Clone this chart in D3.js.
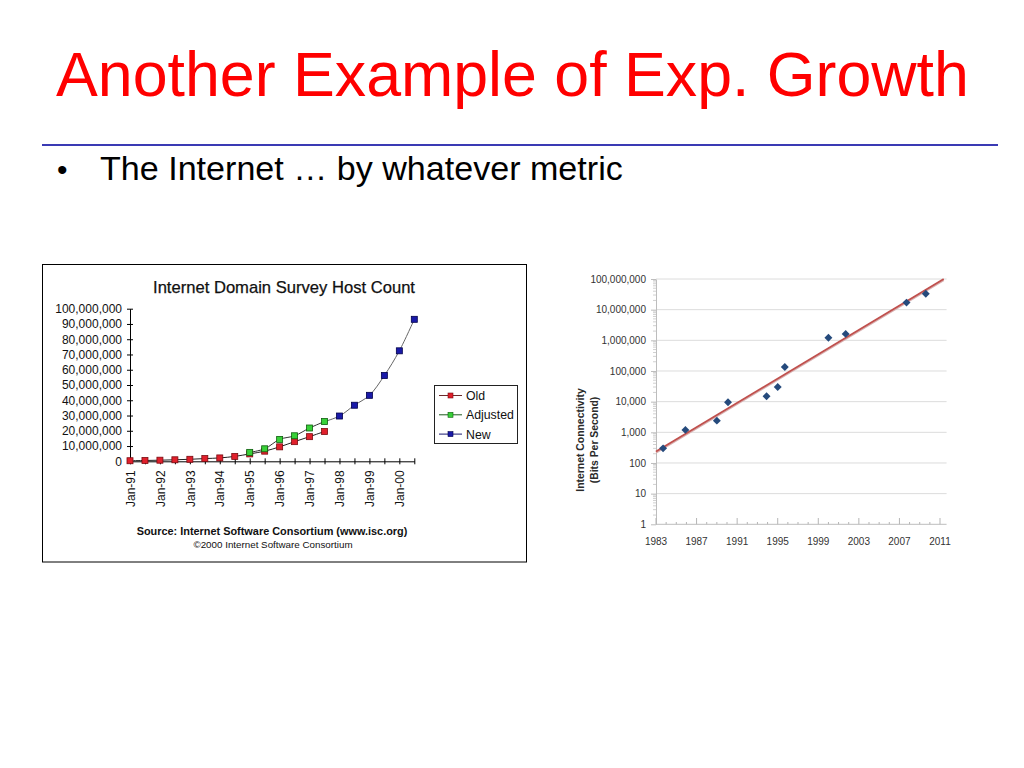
<!DOCTYPE html>
<html><head><meta charset="utf-8">
<script src="https://cdn.jsdelivr.net/npm/d3@7"></script>
<style>
body{margin:0;background:#fff}
svg{display:block}
text{font-family:"Liberation Sans",Arial,Helvetica,sans-serif}
</style>
</head><body>
<svg id="c" width="1024" height="768"></svg>
<script>
// ---------- Slide text ----------
const slideTitle = "Another Example of Exp. Growth";
const bulletText = "The Internet \u2026 by whatever metric";

// ---------- Left chart: Internet Domain Survey Host Count ----------
const hostTitle = "Internet Domain Survey Host Count";
const hostPeriods = ["Jan-91","Jul-91","Jan-92","Jul-92","Jan-93","Jul-93","Jan-94","Jul-94",
  "Jan-95","Jul-95","Jan-96","Jul-96","Jan-97","Jul-97","Jan-98","Jul-98","Jan-99","Jul-99","Jan-00","Jul-00"];
const hostTickLabels = ["Jan-91","Jan-92","Jan-93","Jan-94","Jan-95","Jan-96","Jan-97","Jan-98","Jan-99","Jan-00"];
const hostYTicks = [0,10e6,20e6,30e6,40e6,50e6,60e6,70e6,80e6,90e6,100e6];
const oldHosts = [376000,535000,727000,992000,1313000,1776000,2217000,3212000,4852000,6642000,
  9472000,12881000,16146000,19540000,null,null,null,null,null,null];
const adjustedHosts = [null,null,null,null,null,null,null,null,5846000,8200000,
  14352000,16729000,21819000,26053000,null,null,null,null,null,null];
const newHosts = [null,null,null,null,null,null,null,null,null,null,
  null,null,null,null,29670000,36739000,43230000,56218000,72398000,93047000];
const hostSeriesNames = ["Old","Adjusted","New"];
const hostSource = "Source: Internet Software Consortium (www.isc.org)";
const hostCopyright = "\u00A92000 Internet Software Consortium";

// ---------- Right chart: Internet Connectivity ----------
const connYears = [1983.7,1985.9,1989.0,1990.1,1993.9,1995.0,1995.7,2000.0,2001.7,2007.7,2009.6];
const connBps   = [300,1200,2400,9600,15000,30000,135000,1220000,1620000,17000000,33000000];
const connYTicks = [1,10,100,1000,10000,100000,1000000,10000000,100000000];
const connXTicks = [1983,1987,1991,1995,1999,2003,2007,2011];
const connYTitle = ["Internet Connectivity","(Bits Per Second)"];

const svg = d3.select("#c");
svg.append("rect").attr("width",1024).attr("height",768).attr("fill","#fff");

// Slide title
svg.append("text").attr("x",56).attr("y",96).attr("font-size",62.7).attr("fill","#ff0000").text(slideTitle);
svg.append("line").attr("x1",42).attr("x2",998).attr("y1",145).attr("y2",145)
  .attr("stroke","#3a3ab4").attr("stroke-width",2);
svg.append("text").attr("x",57).attr("y",180).attr("font-size",30).text("\u2022");
svg.append("text").attr("x",100).attr("y",180).attr("font-size",34.1).text(bulletText);

// ================= LEFT CHART =================
const L = svg.append("g");
L.append("rect").attr("x",42.5).attr("y",264.5).attr("width",484).attr("height",297.5)
  .attr("fill","#fff").attr("stroke","#000").attr("stroke-width",1);
L.append("text").attr("x",284).attr("y",293).attr("text-anchor","middle").attr("font-size",16.6)
  .attr("fill","#111").attr("stroke","#111").attr("stroke-width",0.25).text(hostTitle);

const hx = d3.scaleLinear().domain([0, hostPeriods.length-1]).range([130, 414.3]);
const hy = d3.scaleLinear().domain([0, 100e6]).range([461.3, 308.7]);

// y axis
const yAxisL = d3.axisLeft(hy).tickValues(hostYTicks).tickSizeInner(3).tickSizeOuter(0)
  .tickFormat(d3.format(","));
const gyL = L.append("g").attr("transform","translate(130,0)").call(yAxisL);
gyL.select(".domain").attr("stroke","#000");
gyL.selectAll(".tick line").attr("x1",3).attr("x2",-3).attr("stroke","#000");
gyL.selectAll(".tick text").attr("x",-8).attr("font-size",12).attr("fill","#111")
  .style("font-family",'"Liberation Sans",Arial,sans-serif');

// x axis
const xAxisL = d3.axisBottom(hx).tickValues(d3.range(hostPeriods.length)).tickSizeOuter(0)
  .tickSizeInner(3).tickFormat(i => hostTickLabels.includes(hostPeriods[i]) ? hostPeriods[i] : "");
const gxL = L.append("g").attr("transform","translate(0,461.3)").call(xAxisL);
gxL.select(".domain").attr("stroke","#000");
gxL.selectAll(".tick line").attr("y1",-3).attr("y2",3).attr("stroke","#000");
gxL.selectAll(".tick text").attr("font-size",12).attr("fill","#111")
  .style("font-family",'"Liberation Sans",Arial,sans-serif')
  .attr("text-anchor","end").attr("transform","rotate(-90)")
  .attr("x",-9).attr("y",0).attr("dy","0.35em");

const hostSeries = [
  {name:hostSeriesNames[0], values:oldHosts, fill:"#e0202c", stroke:"#7a0a10", line:"#222", leg:"#6b2a2a"},
  {name:hostSeriesNames[1], values:adjustedHosts, fill:"#38d038", stroke:"#0d5e0d", line:"#333", leg:"#1f5a1f"},
  {name:hostSeriesNames[2], values:newHosts, fill:"#1a1aa8", stroke:"#00004a", line:"#666", leg:"#1a1a70"}
];
const lineGen = d3.line().x(d => hx(d.i)).y(d => hy(d.v)).curve(d3.curveCatmullRom.alpha(0.5));
// the New curve continues from the last Adjusted point
const adjLast = adjustedHosts.reduce((a,v,i)=> v!=null ? i : a, -1);
const newPts = [{i:adjLast, v:adjustedHosts[adjLast]}].concat(newHosts.map((v,i)=>({i,v})).filter(d=>d.v!=null));
hostSeries.forEach(s => {
  let pts = s.values.map((v,i)=>({i,v})).filter(d=>d.v!=null);
  if (s.name === "New") pts = newPts;
  L.append("path").attr("d", lineGen(pts)).attr("fill","none").attr("stroke",s.line).attr("stroke-width",1);
});
hostSeries.forEach(s => {
  const pts = s.values.map((v,i)=>({i,v})).filter(d=>d.v!=null);
  L.append("g").selectAll("rect").data(pts).join("rect")
    .attr("x", d => hx(d.i)-3).attr("y", d => hy(d.v)-3).attr("width",6).attr("height",6)
    .attr("fill", s.fill).attr("stroke", s.stroke).attr("stroke-width",0.8);
});

// legend
L.append("rect").attr("x",434.5).attr("y",385.5).attr("width",83).attr("height",58)
  .attr("fill","#fff").attr("stroke","#222").attr("stroke-width",1);
hostSeries.forEach((s,k) => {
  const yy = 395.5 + k*19.3;
  L.append("line").attr("x1",439).attr("x2",462).attr("y1",yy).attr("y2",yy).attr("stroke",s.leg).attr("stroke-width",1);
  L.append("rect").attr("x",448).attr("y",yy-2.5).attr("width",5).attr("height",5)
    .attr("fill",s.fill).attr("stroke",s.stroke).attr("stroke-width",0.6);
  L.append("text").attr("x",466).attr("y",yy).attr("dy","0.36em").attr("font-size",12.3).attr("fill","#111").text(s.name);
});

L.append("text").attr("x",272).attr("y",535).attr("text-anchor","middle").attr("font-size",10.9)
  .attr("font-weight","bold").attr("fill","#111").text(hostSource);
L.append("text").attr("x",273).attr("y",548).attr("text-anchor","middle").attr("font-size",9.8)
  .attr("fill","#111").text(hostCopyright);

// ================= RIGHT CHART =================
const R = svg.append("g");
const rx = d3.scaleLinear().domain([1983, 2011]).range([656, 940]);
const ry = d3.scaleLog().domain([1, 1e8]).range([524.3, 279]);
const rRight = rx(2011.65);

// gridlines
R.append("g").selectAll("line").data(connYTicks.slice(1)).join("line")
  .attr("x1",656).attr("x2",rRight).attr("y1",d=>ry(d)).attr("y2",d=>ry(d))
  .attr("stroke","#dcdcdc").attr("stroke-width",1);

// y axis minor ticks
const minorY = [];
connYTicks.slice(0,-1).forEach(t => { for (let m=2;m<=9;m++) minorY.push(t*m); });
R.append("g").selectAll("line").data(minorY).join("line")
  .attr("x1",653).attr("x2",656).attr("y1",d=>ry(d)).attr("y2",d=>ry(d)).attr("stroke","#d0d0d0");
const yAxisR = d3.axisLeft(ry).tickValues(connYTicks).tickSizeInner(5).tickSizeOuter(0).tickFormat(d3.format(","));
const gyR = R.append("g").attr("transform","translate(656,0)").call(yAxisR);
gyR.select(".domain").attr("stroke","#bdbdbd");
gyR.selectAll(".tick line").attr("stroke","#bdbdbd");
gyR.selectAll(".tick text").attr("x",-10).attr("font-size",10).attr("fill","#333")
  .style("font-family",'"Liberation Sans",Arial,sans-serif');

// x axis
R.append("line").attr("x1",656).attr("x2",rRight).attr("y1",524.3).attr("y2",524.3).attr("stroke","#bdbdbd");
R.append("g").selectAll("line").data(d3.range(1983, 2012)).join("line")
  .attr("x1",d=>rx(d)).attr("x2",d=>rx(d)).attr("y1",524.3)
  .attr("y2",d=> connXTicks.includes(d) ? 518 : 522).attr("stroke","#b5b5b5");
R.append("g").selectAll("text").data(connXTicks).join("text")
  .attr("x",d=>rx(d)).attr("y",545).attr("text-anchor","middle").attr("font-size",10).attr("fill","#333").text(d=>d);

// y title
connYTitle.forEach((t,k) => {
  R.append("text").attr("transform",`translate(${584 + k*13.5},440) rotate(-90)`)
    .attr("text-anchor","middle").attr("font-size",10.4).attr("font-weight","bold").attr("fill","#2a2a2a").text(t);
});

// trend line (least squares fit of log10 values)
const lx = connYears, ly = connBps.map(Math.log10);
const mx = d3.mean(lx), my = d3.mean(ly);
const slope = d3.sum(lx.map((x,i)=>(x-mx)*(ly[i]-my))) / d3.sum(lx.map(x=>(x-mx)*(x-mx)));
const icpt = my - slope*mx;
const yEnd = Math.min(rx.invert(rRight), (8 - icpt)/slope);
const trendPts = [[1983, Math.pow(10, icpt + slope*1983)], [yEnd, Math.pow(10, icpt + slope*yEnd)]];
R.append("line").attr("x1",rx(trendPts[0][0])).attr("y1",ry(trendPts[0][1])+1)
  .attr("x2",rx(trendPts[1][0])).attr("y2",ry(trendPts[1][1])+1).attr("stroke","#d8b0b0").attr("stroke-width",2.2);
R.append("line").attr("x1",rx(trendPts[0][0])).attr("y1",ry(trendPts[0][1]))
  .attr("x2",rx(trendPts[1][0])).attr("y2",ry(trendPts[1][1])).attr("stroke","#c0504d").attr("stroke-width",1.8);

// points
R.append("g").selectAll("path").data(connYears.map((y,i)=>[y, connBps[i]])).join("path")
  .attr("d", d3.symbol().type(d3.symbolDiamond2).size(40)())
  .attr("transform", d => `translate(${rx(d[0])},${ry(d[1])})`)
  .attr("fill","#254a7c");
</script>
</body></html>
